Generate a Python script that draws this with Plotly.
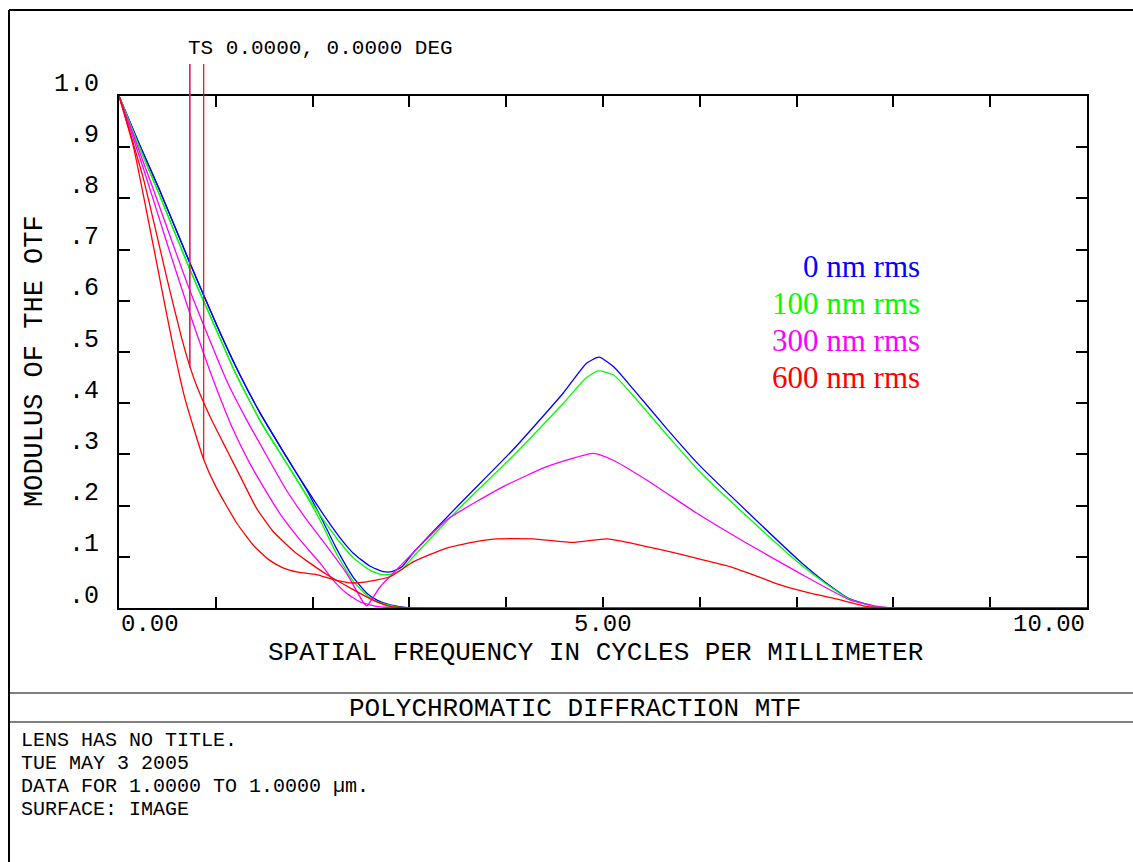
import numpy as np
import plotly.graph_objects as go

W, H = 1133, 862

# ---------------- data ----------------
blue_t_x = [0, 0.2, 0.42, 0.73, 1.02, 1.25, 1.46, 1.73, 1.94, 2.15, 2.30, 2.42, 2.59, 2.73, 2.82, 2.92, 3.04, 3.56, 4.07, 4.59, 4.83, 4.96, 5.11, 5.31, 5.66, 6.00, 6.48, 7.03, 7.30, 7.55, 7.83, 8.0, 10]
blue_t_y = [1, 0.91, 0.816, 0.675, 0.548, 0.455, 0.380, 0.295, 0.232, 0.172, 0.133, 0.107, 0.082, 0.071, 0.071, 0.080, 0.108, 0.211, 0.309, 0.42, 0.478, 0.490, 0.471, 0.428, 0.350, 0.278, 0.190, 0.092, 0.050, 0.018, 0.002, 0, 0]
blue_s_x = [0, 0.2, 0.42, 0.73, 1.02, 1.25, 1.46, 1.73, 1.94, 2.10, 2.25, 2.42, 2.56, 2.67, 2.80, 3.0, 10]
blue_s_y = [1, 0.91, 0.816, 0.675, 0.548, 0.455, 0.380, 0.295, 0.230, 0.172, 0.115, 0.060, 0.029, 0.015, 0.006, 0, 0]

green_t_x = [0, 0.2, 0.42, 0.73, 1.02, 1.20, 1.46, 1.73, 1.94, 2.15, 2.30, 2.42, 2.59, 2.71, 2.82, 2.92, 3.04, 3.56, 4.07, 4.59, 4.83, 4.95, 5.11, 5.31, 5.66, 6.00, 6.48, 7.03, 7.30, 7.55, 7.83, 8.0, 10]
green_t_y = [1, 0.905, 0.806, 0.662, 0.537, 0.460, 0.365, 0.283, 0.220, 0.162, 0.124, 0.098, 0.074, 0.065, 0.066, 0.075, 0.100, 0.203, 0.297, 0.40, 0.450, 0.463, 0.455, 0.415, 0.338, 0.266, 0.180, 0.087, 0.048, 0.017, 0.002, 0, 0]
green_s_x = [0, 0.2, 0.42, 0.73, 1.02, 1.20, 1.46, 1.73, 1.94, 2.10, 2.25, 2.42, 2.56, 2.67, 2.80, 2.95, 10]
green_s_y = [1, 0.905, 0.806, 0.662, 0.537, 0.460, 0.365, 0.283, 0.218, 0.163, 0.105, 0.052, 0.025, 0.012, 0.005, 0, 0]

mag_t_x = [0, 0.32, 0.73, 1.11, 1.32, 1.53, 1.73, 1.94, 2.15, 2.35, 2.52, 2.56, 2.70, 2.90, 3.385, 3.97, 4.42, 4.90, 5.10, 5.45, 5.97, 6.48, 7.03, 7.55, 7.86, 8.0, 10]
mag_t_y = [1, 0.836, 0.621, 0.445, 0.367, 0.296, 0.230, 0.172, 0.120, 0.068, 0.012, 0.004, 0.042, 0.081, 0.172, 0.237, 0.276, 0.302, 0.289, 0.250, 0.185, 0.127, 0.068, 0.016, 0.002, 0, 0]
mag_s_x = [0, 0.25, 0.5, 0.75, 0.975, 1.18, 1.35, 1.49, 1.66, 1.87, 2.08, 2.21, 2.35, 2.49, 2.66, 2.90, 10]
mag_s_y = [1, 0.86, 0.71, 0.565, 0.445, 0.348, 0.283, 0.237, 0.185, 0.133, 0.087, 0.055, 0.029, 0.012, 0.003, 0, 0]

red_t_x = [0, 0.15, 0.30, 0.45, 0.55, 0.68, 0.875, 1.0, 1.216, 1.39, 1.55, 1.70, 1.85, 2.04, 2.21, 2.39, 2.56, 2.80, 3.04, 3.385, 3.73, 3.90, 4.28, 4.69, 5.04, 5.28, 5.62, 5.97, 6.31, 6.65, 6.83, 7.14, 7.45, 7.72, 7.9, 10]
red_t_y = [1, 0.90, 0.76, 0.615, 0.52, 0.41, 0.29, 0.237, 0.166, 0.122, 0.094, 0.078, 0.070, 0.065, 0.056, 0.049, 0.051, 0.061, 0.090, 0.117, 0.131, 0.135, 0.135, 0.128, 0.135, 0.127, 0.113, 0.097, 0.081, 0.058, 0.045, 0.029, 0.016, 0.003, 0, 0]
red_s_x = [0, 0.25, 0.50, 0.65, 0.735, 0.80, 0.95, 1.11, 1.25, 1.42, 1.59, 1.80, 1.94, 2.15, 2.42, 2.63, 2.80, 3.0, 10]
red_s_y = [1, 0.84, 0.64, 0.525, 0.47, 0.435, 0.37, 0.31, 0.258, 0.195, 0.150, 0.112, 0.092, 0.065, 0.036, 0.015, 0.003, 0, 0]

legend_labels = ["0 nm rms", "100 nm rms", "300 nm rms", "600 nm rms"]
legend_colors = ["#0000ff", "#00ff00", "#ff00ff", "#ff0000"]

y_tick_vals = [1.0, 0.9, 0.8, 0.7, 0.6, 0.5, 0.4, 0.3, 0.2, 0.1, 0.0]
y_tick_text = ["1.0", ".9", ".8", ".7", ".6", ".5", ".4", ".3", ".2", ".1", ".0"]
x_tick_vals = [0, 5, 10]
x_tick_text = ["0.00", "5.00", "10.00"]

marker_x = [0.735, 0.875]  # TS marker lines
footer_lines = ["LENS HAS NO TITLE.", "TUE MAY 3 2005", "DATA FOR 1.0000 TO 1.0000 µm.", "SURFACE: IMAGE"]

# ---------------- figure ----------------
def px(x):
    return x / W

def py(y):
    return 1 - y / H

X0, X1 = 119, 1087
Y0, Y1 = 608, 96
MONO = "Liberation Mono"

fig = go.Figure()
series = [
    (blue_t_x, blue_t_y, legend_colors[0]), (blue_s_x, blue_s_y, legend_colors[0]),
    (green_t_x, green_t_y, legend_colors[1]), (green_s_x, green_s_y, legend_colors[1]),
    (mag_t_x, mag_t_y, legend_colors[2]), (mag_s_x, mag_s_y, legend_colors[2]),
    (red_s_x, red_s_y, legend_colors[3]), (red_t_x, red_t_y, legend_colors[3]),
]
for xs, ys, c in series:
    fig.add_trace(go.Scatter(x=xs, y=ys, mode="lines", line=dict(color=c, width=1.3, shape="spline", smoothing=0.5),
                             showlegend=False, hoverinfo="skip"))

axis_common = dict(showline=True, linewidth=2, linecolor="black", mirror="ticks", ticks="inside",
                   ticklen=11, tickwidth=2, tickcolor="black", showgrid=False, zeroline=False,
                   showticklabels=False, layer="below traces")
fig.update_layout(
    width=W, height=H, margin=dict(l=0, r=0, t=0, b=0),
    paper_bgcolor="white", plot_bgcolor="white",
    xaxis=dict(domain=[px(X0), px(X1)], range=[0, 10], dtick=1, tick0=0, **axis_common),
    yaxis=dict(domain=[py(Y0), py(Y1)], range=[0, 1], dtick=0.1, tick0=0, **axis_common),
)

shapes = []
# frame lines
shapes.append(dict(type="line", xref="paper", yref="paper", x0=px(9), x1=1, y0=py(10), y1=py(10), line=dict(color="black", width=2)))
shapes.append(dict(type="line", xref="paper", yref="paper", x0=px(9), x1=px(9), y0=0, y1=py(10), line=dict(color="black", width=2)))
shapes.append(dict(type="line", xref="paper", yref="paper", x0=px(9), x1=1, y0=py(693), y1=py(693), line=dict(color="black", width=1)))
shapes.append(dict(type="line", xref="paper", yref="paper", x0=px(9), x1=1, y0=py(722), y1=py(722), line=dict(color="black", width=1)))

# TS marker lines, ending at the red curves
def data_to_paper_y(v):
    return py(Y0 - (Y0 - Y1) * v)

end1 = float(np.interp(marker_x[0], red_s_x, red_s_y))
end2 = float(np.interp(marker_x[1], red_t_x, red_t_y))
shapes.append(dict(type="line", xref="x", yref="paper", x0=marker_x[0] - 0.006, x1=marker_x[0] - 0.006, y0=py(64), y1=data_to_paper_y(end1), line=dict(color="#6040e0", width=1)))
shapes.append(dict(type="line", xref="x", yref="paper", x0=marker_x[0], x1=marker_x[0], y0=py(64), y1=data_to_paper_y(end1), line=dict(color="#e02060", width=1)))
shapes.append(dict(type="line", xref="x", yref="paper", x0=marker_x[1], x1=marker_x[1], y0=py(64), y1=data_to_paper_y(end2), line=dict(color="#ff0000", width=1.2)))
fig.update_layout(shapes=shapes)

ann = []
for v, t in zip(y_tick_vals, y_tick_text):
    ann.append(dict(x=px(101), xref="paper", y=v, yref="y", yshift=12, text=t, showarrow=False,
                    xanchor="right", yanchor="middle", font=dict(family=MONO, size=25, color="black")))
anchors = ["left", "center", "right"]
for v, t, a in zip(x_tick_vals, x_tick_text, anchors):
    ann.append(dict(x=v, xref="x", y=py(624), yref="paper", text=t, showarrow=False,
                    xanchor=a, yanchor="middle", font=dict(family=MONO, size=24, color="black")))
ann.append(dict(x=px(595), y=py(653), xref="paper", yref="paper", text="SPATIAL FREQUENCY IN CYCLES PER MILLIMETER",
                showarrow=False, xanchor="center", yanchor="middle", font=dict(family=MONO, size=26, color="black")))
ann.append(dict(x=px(35), y=py(361), xref="paper", yref="paper", text="MODULUS OF THE OTF", textangle=-90,
                showarrow=False, xanchor="center", yanchor="middle", font=dict(family=MONO, size=27, color="black")))
ann.append(dict(x=px(186), y=py(49), xref="paper", yref="paper", text="TS 0.0000, 0.0000 DEG",
                showarrow=False, xanchor="left", yanchor="middle", font=dict(family=MONO, size=21, color="black")))
ann.append(dict(x=px(575), y=py(709), xref="paper", yref="paper", text="POLYCHROMATIC DIFFRACTION MTF",
                showarrow=False, xanchor="center", yanchor="middle", font=dict(family=MONO, size=26, color="black")))
for i, t in enumerate(footer_lines):
    ann.append(dict(x=px(19), y=py(740 + 23 * i), xref="paper", yref="paper", text=t,
                    showarrow=False, xanchor="left", yanchor="middle", font=dict(family=MONO, size=20, color="black")))
for i, (t, c) in enumerate(zip(legend_labels, legend_colors)):
    ann.append(dict(x=px(922), y=py(266 + 37.3 * i), xref="paper", yref="paper", text=t,
                    showarrow=False, xanchor="right", yanchor="middle", font=dict(family="Liberation Serif", size=31, color=c)))
fig.update_layout(annotations=ann)

fig.write_html("out.html")
